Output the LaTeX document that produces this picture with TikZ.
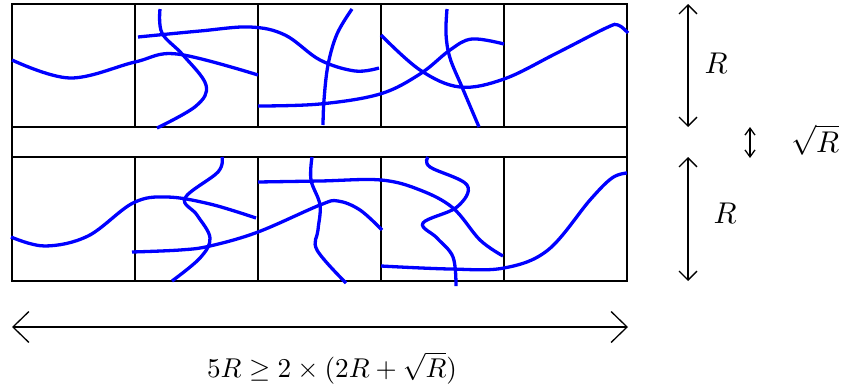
\documentclass[tikz,border=0pt]{standalone}
\usepackage{graphicx}
\usetikzlibrary{arrows.meta}
\begin{document}
\begin{tikzpicture}[x=1pt,y=-1pt,
  grid/.style={draw=black,line width=1.3pt},
  strand/.style={draw=blue,line width=3.3pt,line cap=butt},
  dimarrow/.style={draw=black,line width=1.3pt},
  lbl/.style={inner sep=0pt}]
\useasboundingbox (0,0) rectangle (849,383);
% grid
\draw[grid] (12,4) rectangle (627,281);
\draw[grid] (12,127) -- (627,127);
\draw[grid] (12,157) -- (627,157);
\foreach \x in {135,258,381,504}{
  \draw[grid] (\x,4) -- (\x,127);
  \draw[grid] (\x,157) -- (\x,281);
}
% top row strands
\draw[strand] plot[smooth,tension=0.6] coordinates {(12,60) (70,78) (135,62) (177,54) (258,75)};
\draw[strand] plot[smooth,tension=0.6] coordinates {(138,37) (200,31) (250,27) (285,35) (320,60) (355,71) (379,68)};
\draw[strand] plot[smooth,tension=0.6] coordinates {(160,9) (162,33) (183,55) (206,85) (196,106) (157,128)};
\draw[strand] plot[smooth,tension=0.6] coordinates {(258,106) (320,104) (380,94) (420,74) (450,50) (472,39) (504,44)};
\draw[strand] plot[smooth,tension=0.6] coordinates {(352,9) (337,34) (328,65) (324,100) (323,125)};
\draw[strand] plot[smooth,tension=0.6] coordinates {(381,35) (420,70) (460,87) (504,79) (555,54) (606,28) (618,25) (628,33)};
\draw[strand] plot[smooth,tension=0.6] coordinates {(447,9) (446,34) (450,58) (462,87) (479,127)};
% bottom row strands
\draw[strand] plot[smooth,tension=0.6] coordinates {(11,237) (45,246) (88,236) (133,203) (167,197) (210,204) (256,218)};
\draw[strand] plot[smooth,tension=0.6] coordinates {(132,252) (180,250) (210,246) (258,232) (320,205) (338,201) (360,210) (382,230)};
\draw[strand] plot[smooth,tension=0.6] coordinates {(222,157) (218,172) (185,198) (197,215) (210,238) (200,258) (172,281)};
\draw[strand] plot[smooth,tension=0.6] coordinates {(258,182) (320,181) (381,180) (420,190) (453,208) (480,240) (503,256)};
\draw[strand] plot[smooth,tension=0.6] coordinates {(312,157) (311,180) (320,205) (318,230) (317,250) (346,283)};
\draw[strand] plot[smooth,tension=0.6] coordinates {(428,157) (430,167) (467,185) (457,207) (423,223) (437,238) (453,257) (456,286)};
\draw[strand] plot[smooth,tension=0.6] coordinates {(381,266) (450,269) (504,268) (548,250) (590,200) (612,178) (627,173)};
% dimension arrows
\coordinate (ta) at (688,4);
\coordinate (tb) at (688,127);
\coordinate (ba) at (688,157);
\coordinate (bb) at (688,281);
\coordinate (ga) at (750,127);
\coordinate (gb) at (750,158);
\coordinate (ha) at (12,327);
\coordinate (hb) at (628,327);
\draw[dimarrow,{Straight Barb[length=9pt,width=18pt]}-{Straight Barb[length=9pt,width=18pt]}] (ta) -- (tb);
\draw[dimarrow,{Straight Barb[length=9pt,width=18pt]}-{Straight Barb[length=9pt,width=18pt]}] (ba) -- (bb);
\draw[dimarrow,{Straight Barb[length=7pt,width=10pt]}-{Straight Barb[length=7pt,width=10pt]}] (ga) -- (gb);
\draw[dimarrow,{Straight Barb[length=16pt,width=31pt]}-{Straight Barb[length=16pt,width=31pt]}] (ha) -- (hb);
% labels
\node[lbl] (rtop) at (716,63) {\scalebox{3}{$R$}};
\node[lbl] (rbot) at (725,213) {\scalebox{3}{$R$}};
\node[lbl] (rgap) at (815,140) {\scalebox{3}{$\sqrt{R}$}};
\node[lbl] (form) at (332,368) {\scalebox{2.72}{$5R \geq 2 \times (2R + \sqrt{R})$}};
\end{tikzpicture}
\end{document}
